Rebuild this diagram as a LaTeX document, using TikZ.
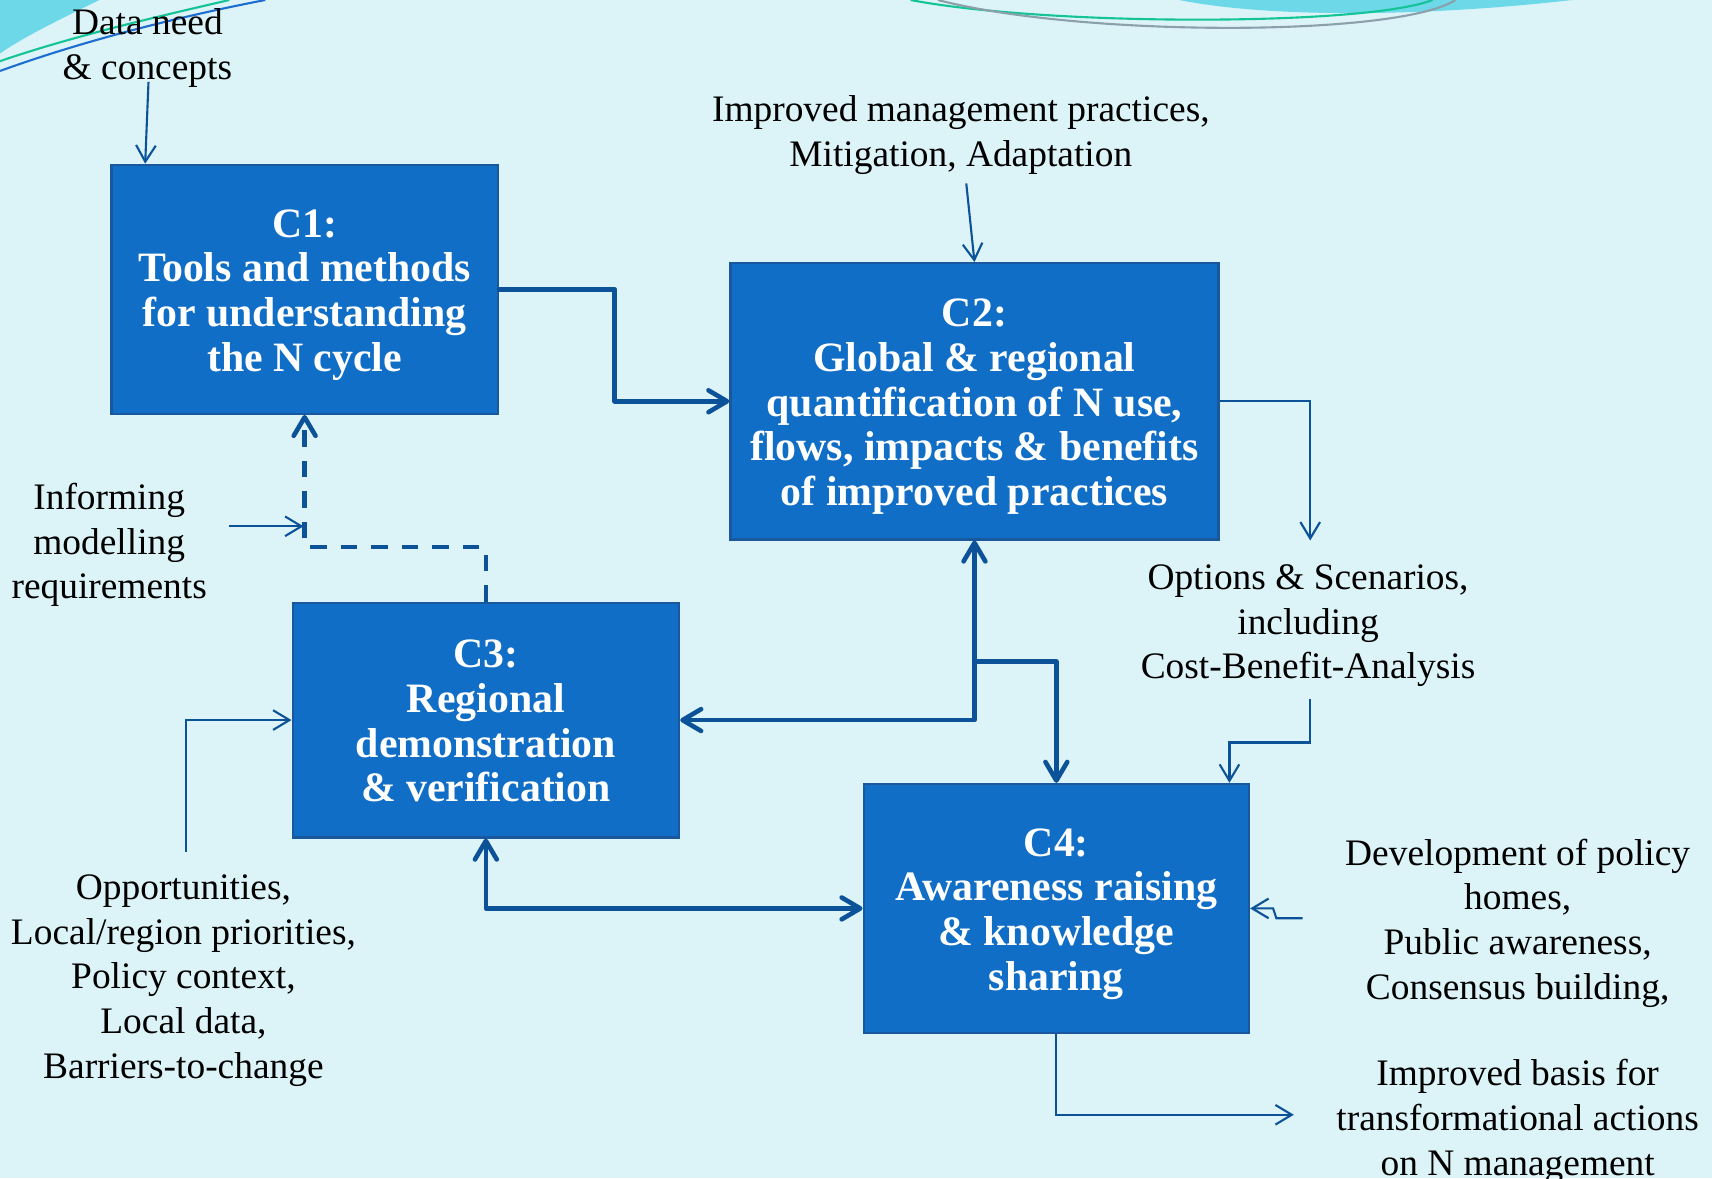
\documentclass[tikz,border=0pt]{standalone}
\usepackage{fontspec}
\setmainfont{Liberation Serif}
\usetikzlibrary{arrows.meta}
\definecolor{bgcyan}{RGB}{220,244,248}
\definecolor{boxblue}{RGB}{16,110,198}
\definecolor{boxedge}{RGB}{26,88,158}
\definecolor{arrowblue}{RGB}{12,82,152}
\definecolor{wavecyan}{RGB}{108,216,232}
\definecolor{wavegreen}{RGB}{20,196,150}
\definecolor{wavegray}{RGB}{140,160,172}
\definecolor{waveblue}{RGB}{30,110,210}

\begin{document}
\begin{tikzpicture}
[x=0.02cm,y=-0.02cm,%
  comp/.style={rectangle,fill=boxblue,draw=boxedge,line width=1.2pt,text=white,align=center,inner sep=0pt,%
    font=\fontsize{21.8}{23.3}\selectfont\bfseries},%
  comptext/.style={text=white,align=center,inner sep=0pt,yshift=-0.1cm,%
    font=\fontsize{21.8}{23.3}\selectfont\bfseries},%
  lbl/.style={align=center,inner sep=0pt,yshift=-0.08cm,font=\fontsize{19.5}{23.3}\selectfont},%
  bigarrow/.style={draw=arrowblue,line width=2.4pt,line cap=round,line join=round,%
    -{Straight Barb[length=0.34cm,width=0.4cm,round]}},%
  bigboth/.style={bigarrow,{Straight Barb[length=0.34cm,width=0.4cm,round]}-{Straight Barb[length=0.34cm,width=0.4cm,round]}},%
  bigdash/.style={bigarrow,line cap=butt,dash pattern=on 0.3cm off 0.26cm},%
  smallarrow/.style={draw=arrowblue,line width=1.1pt,-{Straight Barb[length=0.3cm,width=0.36cm]}}]
\useasboundingbox (0,0) rectangle (1568,1079);
\fill[bgcyan] (0,0) rectangle (1568,1079);
% waves at the top
\fill[wavecyan] (0,0) -- (91,0) .. controls (50,20) and (20,35) .. (0,49) -- cycle;
\draw[wavegreen,line width=1.1pt] (0,56) .. controls (70,32) and (150,14) .. (210,0);
\draw[waveblue,line width=1.1pt] (0,65) .. controls (80,36) and (170,14) .. (243,0);
\fill[wavecyan] (1080,0) .. controls (1160,16) and (1300,16) .. (1440,0) -- cycle;
\draw[wavegreen,line width=1.1pt] (834,0) .. controls (960,24) and (1250,24) .. (1312,0);
\draw[wavegray,line width=1.1pt] (859,0) .. controls (990,34) and (1280,34) .. (1333,0);

% components
\node[comp,minimum width=7.08cm,minimum height=4.56cm] (c1) at (279,265) {};
\node[comp,minimum width=8.94cm,minimum height=5.06cm] (c2) at (892.5,367.5) {};
\node[comp,minimum width=7.08cm,minimum height=4.3cm] (c3) at (445,659.5) {};
\node[comp,minimum width=7.06cm,minimum height=4.56cm] (c4) at (967.5,832) {};
\node[comptext] (c1text) at (c1) {C1:\\Tools and methods\\for understanding\\the N cycle};
\node[comptext] (c2text) at (c2) {C2:\\Global \& regional\\quantification of N use,\\flows, impacts \& benefits\\of improved practices};
\node[comptext,yshift=0.08cm] (c3text) at (c3) {C3:\\Regional\\demonstration\\\& verification};
\node[comptext] (c4text) at (c4) {C4:\\Awareness raising\\\& knowledge\\sharing};

% inputs and outputs
\node[lbl] (dataneed) at (135,40) {Data need\\\& concepts};
\node[lbl] (improved) at (880,120) {Improved management practices,\\Mitigation, Adaptation};
\node[lbl] (inform) at (100,495) {Informing\\modelling\\requirements};
\node[lbl] (options) at (1198,569) {Options \& Scenarios,\\including\\Cost-Benefit-Analysis};
\node[lbl] (opport) at (168,894) {Opportunities,\\Local/region priorities,\\Policy context,\\Local data,\\Barriers-to-change};
\node[lbl] (develop) at (1390,841.5) {Development of policy\\homes,\\Public awareness,\\Consensus building,};
\node[lbl] (basis) at (1390,1023) {Improved basis for\\transformational actions\\on N management};

\coordinate (split) at (892.5,606);
\coordinate (dnstart) at (136,75);
\coordinate (impstart) at (885,168);
\coordinate (infstart) at (210,482);
\coordinate (infend) at (278,482);
\coordinate (optend) at (1200,495);
\coordinate (optstart) at (1200,640);
\coordinate (oppstart) at (170,780);
\coordinate (devstart) at (1193,841);
\coordinate (basend) at (1185,1021);

% main flows
\draw[bigarrow] (c1.east) -- (563,265) |- (c2.west);
\draw[bigdash] (c3.north) -- ++(0,-50) -| (c1.south);
\draw[bigboth] (c2.south) |- (c3.east);
\draw[bigarrow] (split) -| (c4.north);
\draw[bigboth] (c3.south) |- (c4.west);

% thin arrows
\draw[smallarrow] (dnstart) -- ([xshift=0.64cm]c1.north west);
\draw[smallarrow] (impstart) -- (c2.north);
\draw[smallarrow] (infstart) -- (infend);
\draw[smallarrow] (c2.east) -| (optend);
\draw[smallarrow] (optstart) -- ++(0,40) -| ([xshift=-0.38cm]c4.north east);
\draw[smallarrow] (oppstart) |- (c3.west);
\draw[smallarrow] (devstart) -- ++(-24,0) -- ++(-3,-9) -- (c4.east);
\draw[smallarrow] (c4.south) |- (basend);
\end{tikzpicture}
\end{document}
